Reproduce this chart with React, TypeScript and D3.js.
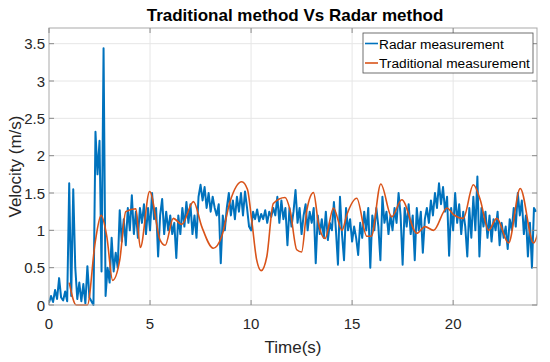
import React, { useRef, useEffect } from "react";
import * as d3 from "d3";

// radar samples, one every RADAR_DT seconds starting at t = 0
const RADAR_DT = 0.1;
const radarValues = [
  0.03, 0.12, 0.04, 0.2, 0.08, 0.36, 0.1, 0.06, 0.18, 0.05,
  1.63, 0.12, 1.55, 0.5, 0.08, 0.3, 0.05, 0.28, 0.02, 0.52,
  0.1, 0.05, 0.0, 2.32, 1.75, 2.2, 0.45, 3.44, 0.12, 0.5,
  0.3, 0.9, 0.45, 0.7, 0.5, 1.27, 0.85, 1.15, 0.8, 1.3,
  1.0, 1.47, 0.95, 1.25, 0.9, 1.3, 1.1, 1.35, 0.95, 1.3,
  1.0, 1.5, 1.15, 1.3, 0.65, 1.2, 1.42, 0.95, 1.25, 1.0,
  1.2, 0.95, 1.1, 0.63, 1.2, 0.95, 1.3, 1.05, 1.38, 1.1,
  1.35, 0.95, 1.2, 0.9, 1.45, 1.61, 1.4, 1.58, 1.3, 1.5,
  1.25, 1.45, 1.3, 1.2, 1.35, 0.56, 1.2, 1.0, 1.3, 1.5,
  1.2, 1.4, 1.15, 1.45, 1.25, 1.5, 1.2, 1.52, 1.3, 1.05,
  1.0, 1.25, 1.15, 1.28, 1.12, 1.22, 1.15, 1.27, 1.1, 1.25,
  1.18, 1.3, 1.2, 1.45, 1.1, 1.4, 1.15, 1.3, 0.8, 1.3,
  1.05, 1.25, 1.54, 1.1, 1.3, 0.95, 1.2, 1.35, 1.0, 1.25,
  1.1, 1.3, 0.56, 1.2, 0.95, 1.15, 0.9, 1.25, 0.87, 1.1,
  1.0, 1.38, 1.0, 0.54, 1.45, 0.95, 0.6, 1.3, 1.0, 1.15,
  0.85, 1.05, 0.9, 0.67, 1.1, 0.9, 1.25, 1.0, 1.3, 0.5,
  1.2, 1.0, 1.3, 1.05, 0.6, 1.45, 1.1, 1.25, 0.95, 1.2,
  1.0, 1.3, 1.1, 1.5, 1.2, 0.54, 1.3, 1.05, 1.35, 0.95,
  1.2, 0.6, 1.3, 1.0, 1.25, 0.7, 1.15, 1.3, 1.1, 1.4,
  1.2, 1.5, 1.3, 1.63, 1.35, 1.58, 1.25, 1.45, 0.66, 1.3,
  1.0, 1.5, 1.1, 1.35, 0.95, 1.25, 1.05, 0.65, 1.3, 0.9,
  1.45, 1.0, 1.72, 0.65, 1.3, 1.05, 1.25, 0.9, 1.2, 0.85,
  1.15, 1.0, 1.25, 0.8, 1.1, 0.9, 1.05, 0.75, 1.15, 1.0,
  1.3, 1.05, 1.5, 1.2, 1.4, 0.95, 1.2, 0.65, 1.1, 0.5,
  1.3, 1.25,
];

// traditional measurement, read as (time, velocity) pairs
const tradTimes = [
  1.0, 1.35, 1.9, 2.28, 2.58, 2.86, 3.15, 3.5, 3.8, 4.3, 4.52, 4.98,
  5.5, 5.75, 6.15, 6.57, 7.15, 7.56, 8.13, 8.55, 8.96, 9.54, 9.82, 10.03,
  10.28, 10.5, 10.78, 11.1, 11.68, 11.93, 12.26, 12.5, 12.76, 13.09, 13.33, 13.66,
  14.08, 14.5, 14.74, 15.23, 15.73, 15.95, 16.42, 16.96, 17.46, 18.2, 18.61, 19.03,
  19.69, 20.02, 20.5, 21.0, 21.34, 21.75, 22.16, 22.74, 23.32, 23.98, 24.2,
];
const tradValues = [
  0.3, 0.0, 0.0, 0.83, 1.2, 0.92, 0.33, 0.6, 1.25, 1.29, 0.77, 1.52,
  0.87, 0.8, 1.16, 1.08, 1.385, 1.05, 0.76, 0.92, 1.385, 1.65, 1.55, 1.14,
  0.6, 0.46, 0.65, 1.36, 1.44, 1.27, 0.74, 0.71, 1.27, 1.505, 1.1, 0.89,
  1.3, 1.0, 1.21, 1.43, 0.92, 0.92, 1.62, 1.18, 1.41, 0.96, 1.05, 1.0,
  1.3, 1.21, 1.16, 1.61, 1.41, 1.0, 1.16, 0.83, 1.56, 0.83, 0.97,
];

const xTicks = [0, 5, 10, 15, 20];
const yTicks = [0, 0.5, 1, 1.5, 2, 2.5, 3, 3.5];
const xDomain = [0, 24.15];
const yDomain = [0, 3.71];

const seriesNames = ["Radar measurement", "Traditional measurement"];
const seriesColors = ["#0072bd", "#d95319"];

const App = () => {
  const ref = useRef(null);

  useEffect(() => {
    const svg = d3.select(ref.current);
    svg.selectAll("*").remove();

    const width = 550;
    const height = 362;
    const margin = { top: 28, right: 13, bottom: 57, left: 49 };
    const font = "'Liberation Sans', Arial, sans-serif";
    const axisColor = "#a9a9a9";
    const gridColor = "#e6e6e6";

    const xScale = d3
      .scaleLinear()
      .domain(xDomain)
      .range([margin.left, width - margin.right]);
    const yScale = d3
      .scaleLinear()
      .domain(yDomain)
      .range([height - margin.bottom, margin.top]);

    const x0 = margin.left;
    const x1 = width - margin.right;
    const y0 = height - margin.bottom;
    const y1 = margin.top;

    svg.attr("font-family", font);

    // background
    svg
      .append("rect")
      .attr("x", x0)
      .attr("y", y1)
      .attr("width", x1 - x0)
      .attr("height", y0 - y1)
      .attr("fill", "#fff");

    // grid
    svg
      .append("g")
      .selectAll("line")
      .data(xTicks.filter((d) => d > 0))
      .join("line")
      .attr("x1", (d) => xScale(d))
      .attr("x2", (d) => xScale(d))
      .attr("y1", y0)
      .attr("y2", y1)
      .attr("stroke", gridColor);
    svg
      .append("g")
      .selectAll("line")
      .data(yTicks.filter((d) => d > 0))
      .join("line")
      .attr("x1", x0)
      .attr("x2", x1)
      .attr("y1", (d) => yScale(d))
      .attr("y2", (d) => yScale(d))
      .attr("stroke", gridColor);

    // clip
    svg
      .append("clipPath")
      .attr("id", "plot-clip")
      .append("rect")
      .attr("x", x0)
      .attr("y", y1)
      .attr("width", x1 - x0)
      .attr("height", y0 - y1 + 1);

    const line = d3
      .line()
      .x((d) => xScale(d[0]))
      .y((d) => yScale(d[1]));

    const radarData = radarValues.map((v, i) => [i * RADAR_DT, v]);
    const tradData = tradTimes.map((t, i) => [t, tradValues[i]]);

    const plot = svg.append("g").attr("clip-path", "url(#plot-clip)");

    plot
      .append("path")
      .datum(radarData)
      .attr("fill", "none")
      .attr("stroke", seriesColors[0])
      .attr("stroke-width", 2)
      .attr("stroke-linejoin", "round")
      .attr("d", line);

    plot
      .append("path")
      .datum(tradData)
      .attr("fill", "none")
      .attr("stroke", seriesColors[1])
      .attr("stroke-width", 1.6)
      .attr("stroke-linejoin", "round")
      .attr("d", line.curve(d3.curveMonotoneX));

    // box
    svg
      .append("rect")
      .attr("x", x0)
      .attr("y", y1)
      .attr("width", x1 - x0)
      .attr("height", y0 - y1)
      .attr("fill", "none")
      .attr("stroke", axisColor);

    // ticks (inside, on all four sides)
    const tickLen = 5;
    const ticks = svg.append("g").attr("stroke", "#8a8a8a");
    xTicks.forEach((d) => {
      ticks.append("line").attr("x1", xScale(d)).attr("x2", xScale(d)).attr("y1", y0).attr("y2", y0 - tickLen);
      ticks.append("line").attr("x1", xScale(d)).attr("x2", xScale(d)).attr("y1", y1).attr("y2", y1 + tickLen);
    });
    yTicks.forEach((d) => {
      ticks.append("line").attr("x1", x0).attr("x2", x0 + tickLen).attr("y1", yScale(d)).attr("y2", yScale(d));
      ticks.append("line").attr("x1", x1).attr("x2", x1 - tickLen).attr("y1", yScale(d)).attr("y2", yScale(d));
    });

    // tick labels
    svg
      .append("g")
      .selectAll("text")
      .data(xTicks)
      .join("text")
      .attr("x", (d) => xScale(d))
      .attr("y", 329)
      .attr("text-anchor", "middle")
      .attr("font-size", 15)
      .attr("fill", "#262626")
      .text((d) => d);

    svg
      .append("g")
      .selectAll("text")
      .data(yTicks)
      .join("text")
      .attr("x", x0 - 4)
      .attr("y", (d) => yScale(d) + 5.5)
      .attr("text-anchor", "end")
      .attr("font-size", 15)
      .attr("fill", "#262626")
      .text((d) => d);

    // axis labels
    svg
      .append("text")
      .attr("x", (x0 + x1) / 2)
      .attr("y", 353)
      .attr("text-anchor", "middle")
      .attr("font-size", 17)
      .attr("fill", "#262626")
      .text("Time(s)");

    svg
      .append("text")
      .attr("transform", "rotate(-90)")
      .attr("x", -(y0 + y1) / 2)
      .attr("y", 21)
      .attr("text-anchor", "middle")
      .attr("font-size", 17)
      .attr("fill", "#262626")
      .text("Velocity (m/s)");

    // title
    svg
      .append("text")
      .attr("x", 295)
      .attr("y", 21)
      .attr("text-anchor", "middle")
      .attr("font-size", 17)
      .attr("font-weight", "bold")
      .attr("fill", "#000")
      .text("Traditional method Vs Radar method");

    // legend
    const legend = svg.append("g");
    legend
      .append("rect")
      .attr("x", 363)
      .attr("y", 33)
      .attr("width", 170)
      .attr("height", 40)
      .attr("fill", "#fff")
      .attr("stroke", "#4d4d4d")
      .attr("stroke-width", 0.8);
    seriesNames.forEach((name, i) => {
      const ly = 43.5 + i * 19.5;
      legend
        .append("line")
        .attr("x1", 365)
        .attr("x2", 378)
        .attr("y1", ly)
        .attr("y2", ly)
        .attr("stroke", seriesColors[i])
        .attr("stroke-width", 1.6);
      legend
        .append("text")
        .attr("x", 379)
        .attr("y", ly + 5)
        .attr("font-size", 13.7)
        .attr("fill", "#000")
        .text(name);
    });
  }, []);

  return (
    <svg
      ref={ref}
      width={550}
      height={362}
      style={{ position: "absolute", left: 0, top: 0, background: "#fff" }}
    ></svg>
  );
};

export default App;
